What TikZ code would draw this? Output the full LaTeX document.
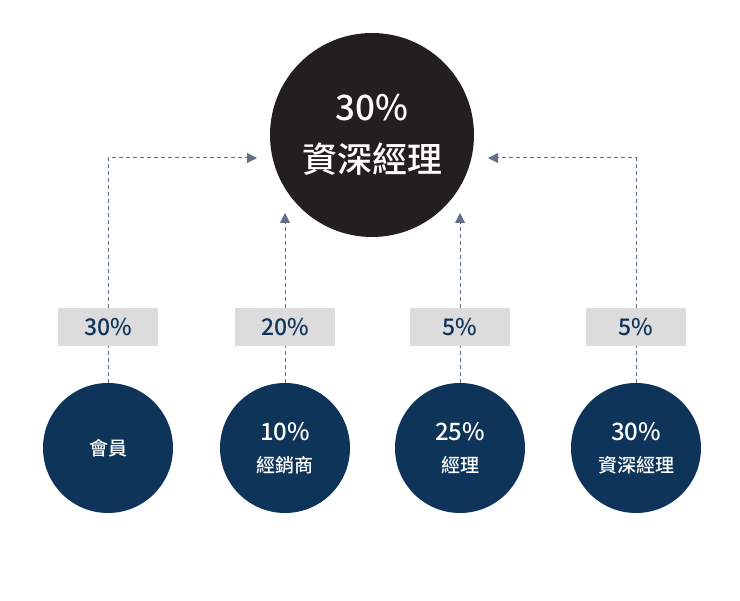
\documentclass[tikz,border=0pt]{standalone}
\usepackage{fontspec}
\setmainfont{Noto Sans CJK TC}[BoldFont={* Medium}]
\usetikzlibrary{arrows.meta}
\definecolor{navy}{HTML}{0E3559}
\definecolor{dark}{HTML}{231F20}
\definecolor{lbl}{HTML}{DCDCDC}
\definecolor{ln}{HTML}{5F7088}
\tikzset{
  small/.style={circle,fill=navy,minimum size=130pt,inner sep=0pt,text=white,align=center,font=\bfseries\fontsize{24}{28}\selectfont},
  big/.style={circle,fill=dark,minimum size=204pt,inner sep=0pt,text=white,align=center,font=\bfseries\fontsize{35}{46}\selectfont},
  pct/.style={fill=lbl,minimum width=100pt,minimum height=38pt,inner sep=0pt,text=navy,font=\bfseries\fontsize{23}{26}\selectfont},
  conn/.style={draw=ln,line width=1pt,dash pattern=on 4pt off 3pt},
  arr/.style={conn,-{Triangle[length=10pt,width=10pt]}}
}
\begin{document}
\begin{tikzpicture}[x=1pt,y=-1pt]
\useasboundingbox (0,0) rectangle (740,601);
\node[big] (top) at (372,135) {30\%\\[6pt]資深經理};
\node[small] (c1) at (108,448) {\fontsize{19}{20}\selectfont 會員};
\node[small] (c2) at (285,448) {10\%\\[4pt]\fontsize{19}{20}\selectfont 經銷商};
\node[small] (c3) at (460,448) {25\%\\[4pt]\fontsize{19}{20}\selectfont 經理};
\node[small] (c4) at (636,448) {30\%\\[4pt]\fontsize{19}{20}\selectfont 資深經理};
\node[pct] (p1) at (108,327) {30\%};
\node[pct] (p2) at (285,327) {20\%};
\node[pct] (p3) at (460,327) {5\%};
\node[pct] (p4) at (636,327) {5\%};
\coordinate (a1) at (257,158);
\coordinate (a4) at (488,158);
\coordinate (a2) at (285,213);
\coordinate (a3) at (460,213);
\draw[conn] (c1.north) -- (p1.south);
\draw[conn] (c2.north) -- (p2.south);
\draw[conn] (c3.north) -- (p3.south);
\draw[conn] (c4.north) -- (p4.south);
\draw[arr] (p1.north) |- (a1);
\draw[arr] (p4.north) |- (a4);
\draw[arr] (p2.north) -- (a2);
\draw[arr] (p3.north) -- (a3);
\end{tikzpicture}
\end{document}
